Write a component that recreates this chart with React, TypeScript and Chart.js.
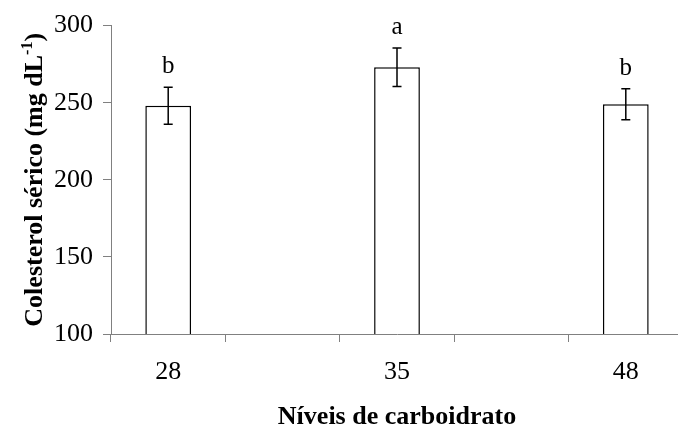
import React, { useEffect, useRef } from "react";
import { Chart, registerables } from "chart.js";

Chart.register(...registerables);

const categories = ["28", "", "35", "", "48"];
const means: (number | null)[] = [248, null, 273, null, 249];
const errors: (number | null)[] = [12, null, 12.5, null, 10];
const letters = ["b", "", "a", "", "b"];
const yTicks = [100, 150, 200, 250, 300];
const xTitle = "Níveis de carboidrato";
const yTitleMain = "Colesterol sérico (mg dL";
const yTitleSup = "-1";
const yTitleEnd = ")";

const SERIF = "'Liberation Serif', 'Times New Roman', serif";

const decorPlugin = {
  id: "decor",
  afterDatasetsDraw(chart: any) {
    const ctx = chart.ctx;
    const xs = chart.scales.x;
    const ys = chart.scales.y;
    ctx.save();
    ctx.strokeStyle = "#000";
    ctx.fillStyle = "#000";
    ctx.lineWidth = 1.5;
    for (let i = 0; i < categories.length; i++) {
      const m = means[i];
      const e = errors[i];
      if (m == null || e == null) continue;
      const x = xs.getPixelForValue(i);
      const yt = ys.getPixelForValue(m + e);
      const yb = ys.getPixelForValue(m - e);
      ctx.beginPath();
      ctx.moveTo(x, yt);
      ctx.lineTo(x, yb);
      ctx.moveTo(x - 4.5, yt);
      ctx.lineTo(x + 4.5, yt);
      ctx.moveTo(x - 4.5, yb);
      ctx.lineTo(x + 4.5, yb);
      ctx.stroke();
      ctx.font = `25px ${SERIF}`;
      ctx.textAlign = "center";
      ctx.textBaseline = "alphabetic";
      ctx.fillText(letters[i], x, yt - 14);
    }
    // x title
    ctx.font = `bold 26px ${SERIF}`;
    ctx.textAlign = "center";
    ctx.textBaseline = "alphabetic";
    ctx.fillText(xTitle, 397, 424);
    // y title with superscript
    const cy = (chart.chartArea.top + chart.chartArea.bottom) / 2;
    ctx.translate(42, cy);
    ctx.rotate(-Math.PI / 2);
    ctx.textAlign = "left";
    const fMain = `bold 26px ${SERIF}`;
    const fSup = `bold 16px ${SERIF}`;
    ctx.font = fMain;
    const w1 = ctx.measureText(yTitleMain).width;
    const w3 = ctx.measureText(yTitleEnd).width;
    ctx.font = fSup;
    const w2 = ctx.measureText(yTitleSup).width;
    let sx = -(w1 + w2 + w3) / 2;
    ctx.font = fMain;
    ctx.fillText(yTitleMain, sx, 0);
    sx += w1;
    ctx.font = fSup;
    ctx.fillText(yTitleSup, sx, -10);
    sx += w2;
    ctx.font = fMain;
    ctx.fillText(yTitleEnd, sx, 0);
    ctx.restore();
  },
};

export default function App() {
  const ref = useRef<HTMLCanvasElement>(null);
  useEffect(() => {
    if (!ref.current) return;
    const chart = new Chart(ref.current, {
      type: "bar",
      data: {
        labels: categories,
        datasets: [
          {
            data: means as any,
            backgroundColor: "#ffffff",
            borderColor: "#000000",
            borderWidth: 1.5,
            barPercentage: 0.4,
            categoryPercentage: 1,
          },
        ],
      },
      options: {
        responsive: false,
        animation: false,
        events: [],
        layout: { padding: { top: 21, right: 7, left: 0, bottom: 0 } },
        plugins: { legend: { display: false }, tooltip: { enabled: false } },
        scales: {
          x: {
            offset: true,
            grid: {
              offset: true,
              drawOnChartArea: false,
              drawTicks: true,
              tickLength: 8,
              color: "#808080",
            },
            border: { color: "#808080", width: 1 },
            ticks: {
              color: "#000",
              font: { family: SERIF, size: 26 },
              padding: 15,
              maxRotation: 0,
              autoSkip: false,
            },
            afterFit: (s: any) => {
              s.height = 93;
            },
          },
          y: {
            min: 100,
            max: 300,
            afterBuildTicks: (s: any) => {
              s.ticks = yTicks.map((v) => ({ value: v }));
            },
            grid: {
              drawOnChartArea: false,
              drawTicks: true,
              tickLength: 8,
              color: "#808080",
            },
            border: { color: "#808080", width: 1 },
            ticks: {
              color: "#000",
              font: { family: SERIF, size: 26 },
              padding: 10,
            },
            afterFit: (s: any) => {
              s.width = 111;
            },
          },
        },
      },
      plugins: [decorPlugin],
    });
    return () => chart.destroy();
  }, []);
  return (
    <div
      style={{
        position: "fixed",
        left: 0,
        top: 0,
        width: 678,
        height: 427,
        overflow: "hidden",
        background: "#fff",
      }}
    >
      <canvas ref={ref} width={690} height={427} style={{ display: "block" }} />
    </div>
  );
}
